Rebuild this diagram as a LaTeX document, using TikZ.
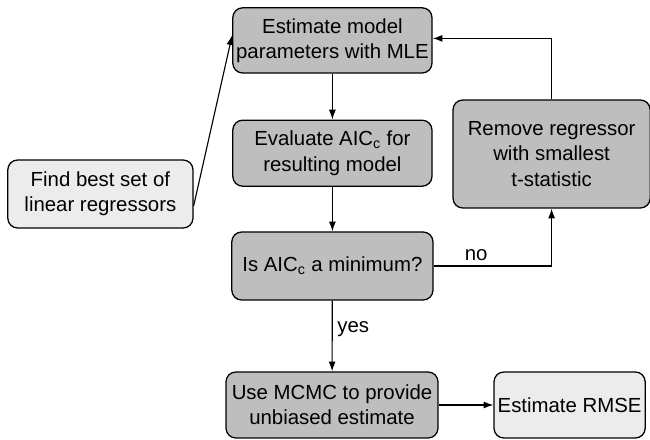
\documentclass[tikz,border=0pt]{standalone}
\usepackage{fontspec}
\setmainfont{Liberation Sans}
\usetikzlibrary{arrows.meta}
\definecolor{stepgray}{HTML}{BEBEBE}
\definecolor{endgray}{HTML}{ECECEC}

\begin{document}
\begin{tikzpicture}[x=1cm, y=1cm,
  sbox/.style={draw=black, rounded corners=7pt, line width=0.9pt, fill=stepgray, align=center,
    inner sep=0pt, font=\fontsize{14.5}{18}\selectfont},
  ebox/.style={sbox, fill=endgray},
  link/.style={line width=0.8pt, -{Latex[length=7pt, width=5pt]}}]

\useasboundingbox (0,0) rectangle (16.25,11);

\node[sbox, minimum width=4.98cm, minimum height=1.63cm] at (8.31,9.99) (est) {Estimate model\\parameters with MLE};
\node[sbox, minimum width=4.98cm, minimum height=1.65cm] at (8.31,7.17) (eval) {Evaluate AIC$_\mathrm{c}$ for\\resulting model};
\node[ebox, minimum width=4.63cm, minimum height=1.7cm] at (2.51,6.15) (find) {Find best set of\\linear regressors};
\node[sbox, minimum width=4.93cm, minimum height=2.7cm] at (13.79,7.15) (remove) {Remove regressor\\with smallest\\t-statistic};
\node[sbox, minimum width=5.03cm, minimum height=1.7cm] at (8.31,4.35) (ismin) {Is AIC$_\mathrm{c}$ a minimum?};
\node[sbox, minimum width=5.3cm, minimum height=1.65cm] at (8.30,0.875) (mcmc) {Use MCMC to provide\\unbiased estimate};
\node[ebox, minimum width=3.78cm, minimum height=1.65cm] at (14.24,0.875) (rmse) {Estimate RMSE};

\draw[link] ([yshift=-0.3cm]find.east) -- ([yshift=0.13cm]est.west);
\draw[link] (est) -- (eval);
\draw[link] (eval) -- (ismin);
\draw[link] (ismin) -- node[right, font=\fontsize{14.5}{18}\selectfont, pos=0.4] {yes} (mcmc);
\draw[link] (ismin.east) -- node[above, font=\fontsize{14.5}{18}\selectfont, pos=0.36] {no} (ismin.east -| remove.south) -- (remove.south);
\draw[link] (remove.north) |- ([yshift=0.05cm]est.east);
\draw[link] (mcmc) -- (rmse);
\end{tikzpicture}
\end{document}
